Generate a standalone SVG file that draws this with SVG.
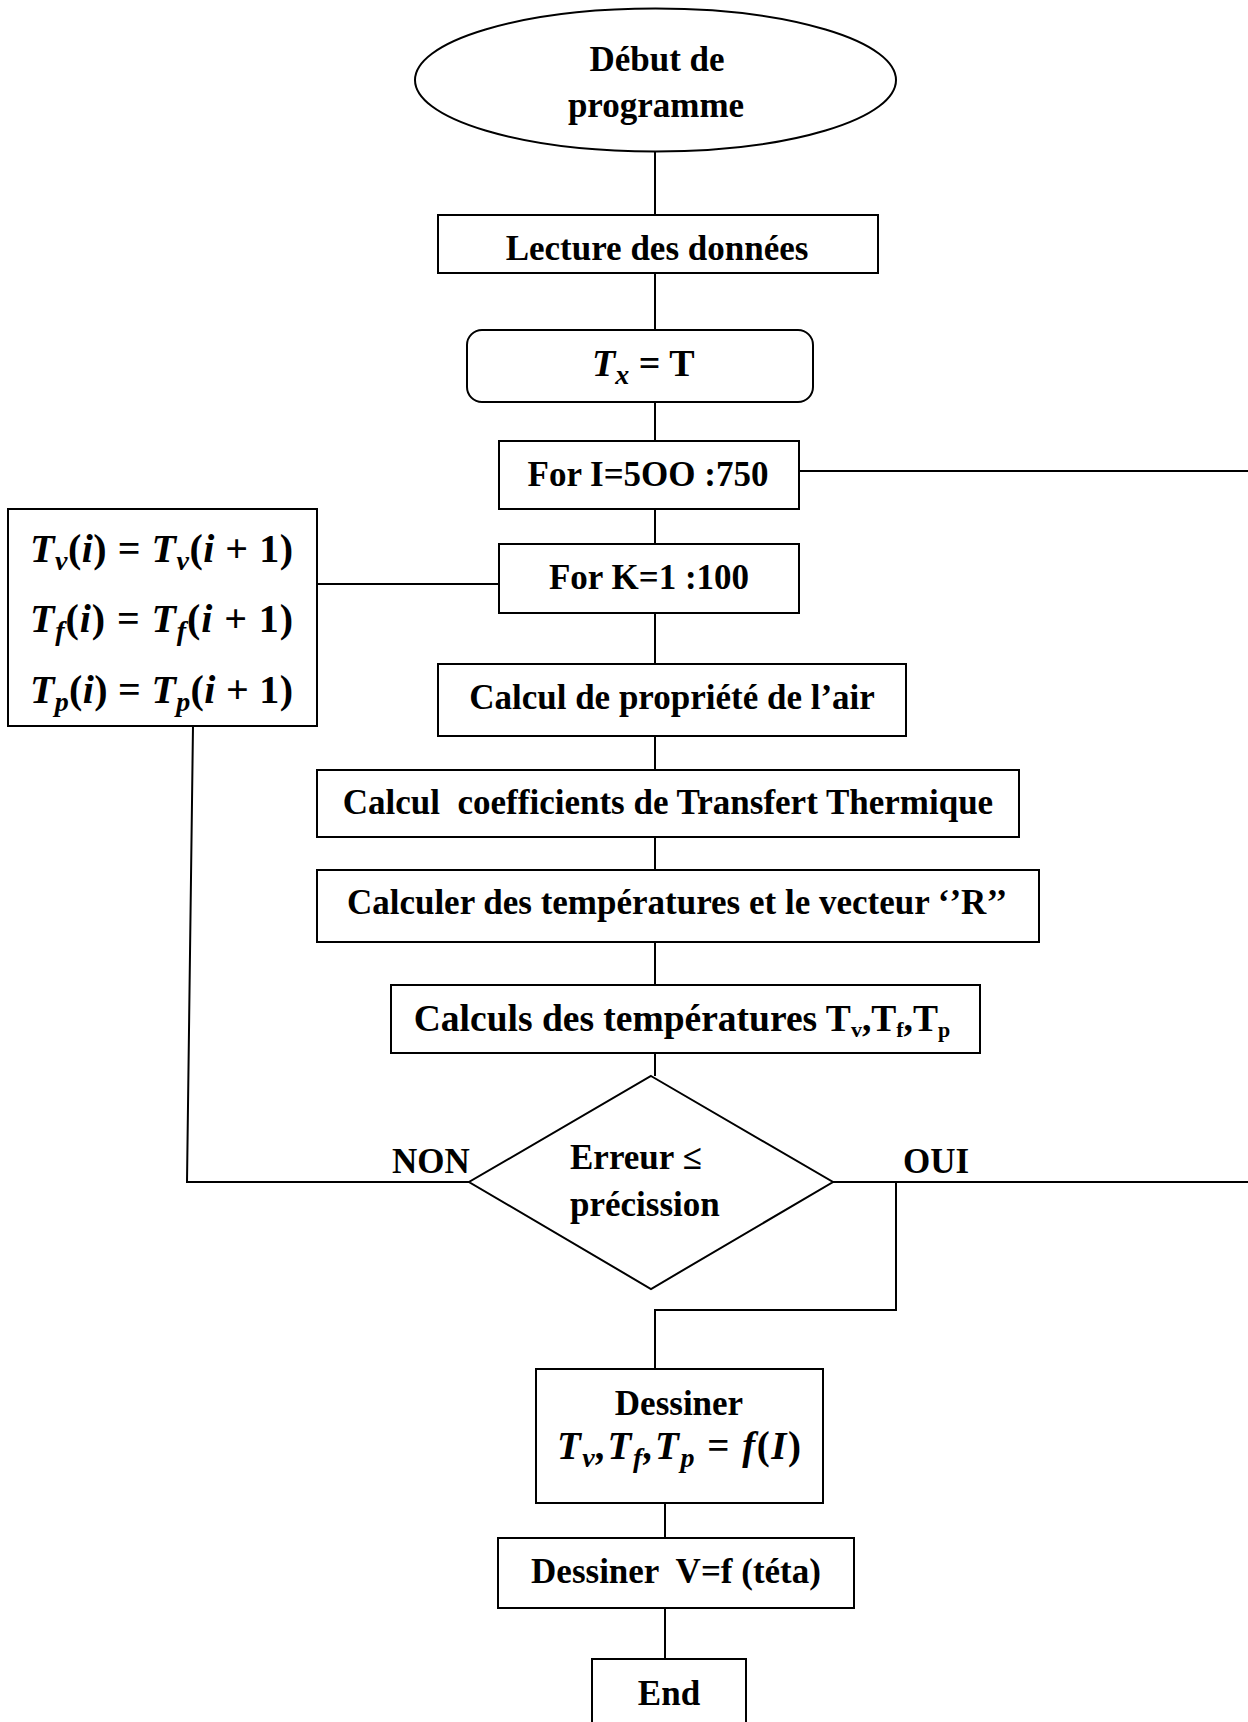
<svg xmlns="http://www.w3.org/2000/svg" width="1248" height="1722" viewBox="0 0 1248 1722">
<style>
.box{fill:#fff;stroke:#000;stroke-width:2}
.ln{fill:none;stroke:#000;stroke-width:2}
.t{font-family:"Liberation Serif","Times New Roman",serif;font-weight:bold;font-size:35px;fill:#000;text-anchor:middle}
.s{text-anchor:start}
.m{font-family:"Liberation Serif","Times New Roman",serif;font-weight:bold;font-style:italic;font-size:40px;fill:#000}
.up{font-style:normal}
.sub{font-size:28px}
</style>
<rect width="1248" height="1722" fill="#fff"/>
<g id="connectors">
<line class="ln" x1="655" y1="151" x2="655" y2="215"/>
<line class="ln" x1="655" y1="273" x2="655" y2="330"/>
<line class="ln" x1="655" y1="402" x2="655" y2="441"/>
<line class="ln" x1="799" y1="471" x2="1248" y2="471"/>
<line class="ln" x1="655" y1="509" x2="655" y2="544"/>
<line class="ln" x1="317" y1="584" x2="499" y2="584"/>
<line class="ln" x1="655" y1="613" x2="655" y2="664"/>
<line class="ln" x1="655" y1="736" x2="655" y2="770"/>
<line class="ln" x1="655" y1="837" x2="655" y2="870"/>
<line class="ln" x1="655" y1="942" x2="655" y2="985"/>
<line class="ln" x1="655" y1="1053" x2="655" y2="1076"/>
<polyline class="ln" points="193,726 187,1182 469,1182"/>
<line class="ln" x1="833" y1="1182" x2="1248" y2="1182"/>
<polyline class="ln" points="896,1182 896,1310 655,1310 655,1369"/>
<line class="ln" x1="665" y1="1503" x2="665" y2="1538"/>
<line class="ln" x1="665" y1="1608" x2="665" y2="1659"/>
</g>
<g id="start">
<ellipse class="box" cx="655.5" cy="80" rx="240.5" ry="71.5"/>
<text class="t" x="657" y="71">Début de</text>
<text class="t" x="656" y="117">programme</text>
</g>
<g id="lecture">
<rect class="box" x="438" y="215" width="440" height="58"/>
<text class="t" x="657" y="260">Lecture des données</text>
</g>
<g id="tx">
<rect class="box" x="467" y="330" width="346" height="72" rx="15"/>
<text class="m" x="592" y="376" style="font-size:38px">T<tspan class="sub" dy="8">x</tspan><tspan class="up" dy="-8"> = T</tspan></text>
</g>
<g id="forI">
<rect class="box" x="499" y="441" width="300" height="68"/>
<text class="t" x="648" y="486">For I=5OO :750</text>
</g>
<g id="forK">
<rect class="box" x="499" y="544" width="300" height="69"/>
<text class="t" x="649" y="589">For K=1 :100</text>
</g>
<g id="update">
<rect class="box" x="8" y="509" width="309" height="217"/>
<text class="m" x="30" y="562" textLength="263" lengthAdjust="spacing">T<tspan class="sub" dy="8">v</tspan><tspan class="up" dy="-8">(</tspan>i<tspan class="up">) = </tspan>T<tspan class="sub" dy="8">v</tspan><tspan class="up" dy="-8">(</tspan>i<tspan class="up"> + 1)</tspan></text>
<text class="m" x="30" y="632" textLength="263" lengthAdjust="spacing">T<tspan class="sub" dy="8">f</tspan><tspan class="up" dy="-8">(</tspan>i<tspan class="up">) = </tspan>T<tspan class="sub" dy="8">f</tspan><tspan class="up" dy="-8">(</tspan>i<tspan class="up"> + 1)</tspan></text>
<text class="m" x="30" y="703" textLength="263" lengthAdjust="spacing">T<tspan class="sub" dy="8">p</tspan><tspan class="up" dy="-8">(</tspan>i<tspan class="up">) = </tspan>T<tspan class="sub" dy="8">p</tspan><tspan class="up" dy="-8">(</tspan>i<tspan class="up"> + 1)</tspan></text>
</g>
<g id="prop">
<rect class="box" x="438" y="664" width="468" height="72"/>
<text class="t" x="672" y="709">Calcul de propriété de l’air</text>
</g>
<g id="coef">
<rect class="box" x="317" y="770" width="702" height="67"/>
<text class="t" x="668" y="814" style="white-space:pre">Calcul  coefficients de Transfert Thermique</text>
</g>
<g id="vecR">
<rect class="box" x="317" y="870" width="722" height="72"/>
<text class="t" x="677" y="914">Calculer des températures et le vecteur ‘’R’’</text>
</g>
<g id="temps">
<rect class="box" x="391" y="985" width="589" height="68"/>
<text class="t" x="682" y="1031" style="font-size:37.5px">Calculs des températures T<tspan style="font-size:22px" dy="6">v</tspan><tspan dy="-6">,T</tspan><tspan style="font-size:22px" dy="6">f</tspan><tspan dy="-6">,T</tspan><tspan style="font-size:22px" dy="6">p</tspan></text>
</g>
<g id="decision">
<polygon class="box" points="651,1076 833,1182 651,1289 469,1182"/>
<text class="t s" x="570" y="1169">Erreur ≤</text>
<text class="t s" x="570" y="1216">précission</text>
</g>
<g id="labels">
<text class="t s" x="392" y="1173">NON</text>
<text class="t s" x="903" y="1173">OUI</text>
</g>
<g id="draw1">
<rect class="box" x="536" y="1369" width="287" height="134"/>
<text class="t" x="679" y="1415">Dessiner</text>
<text class="m" x="557" y="1459" textLength="244" lengthAdjust="spacing" style="font-size:39px">T<tspan class="sub" dy="8">v</tspan><tspan dy="-8">,T</tspan><tspan class="sub" dy="8">f</tspan><tspan dy="-8">,T</tspan><tspan class="sub" dy="8">p</tspan><tspan class="up" dy="-8"> = </tspan>f<tspan class="up">(</tspan>I<tspan class="up">)</tspan></text>
</g>
<g id="draw2">
<rect class="box" x="498" y="1538" width="356" height="70"/>
<text class="t" x="676" y="1583" style="white-space:pre">Dessiner  V=f (téta)</text>
</g>
<g id="end">
<rect class="box" x="592" y="1659" width="154" height="80"/>
<text class="t" x="669" y="1705">End</text>
</g>
</svg>
